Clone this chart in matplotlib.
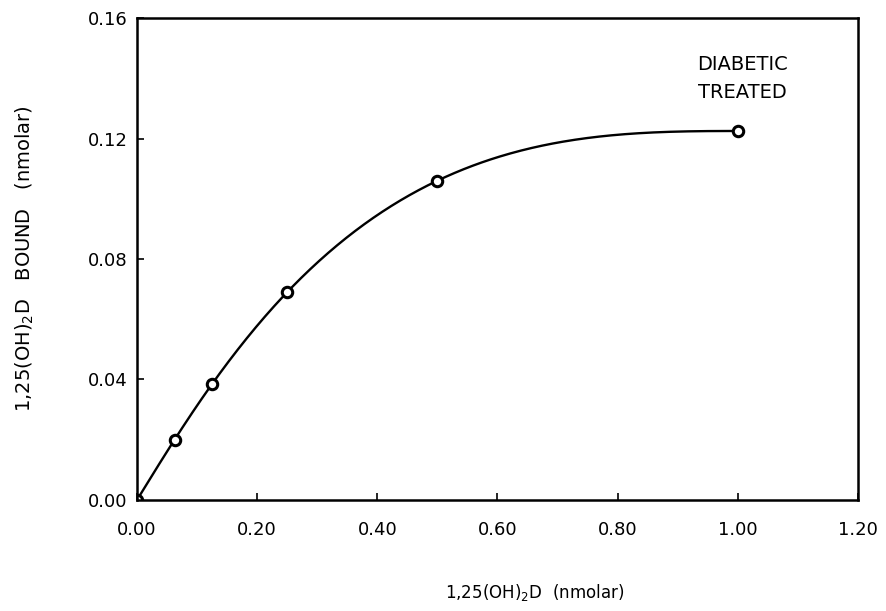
import numpy as np
import matplotlib
matplotlib.use("Agg")
import matplotlib.pyplot as plt

# Data
conc = [0.0, 0.0625, 0.125, 0.25, 0.5, 1.0]          # 1,25(OH)2D added (nmolar)
bound = [0.0, 0.020, 0.0385, 0.069, 0.106, 0.1225]    # 1,25(OH)2D bound (nmolar)

x_ticks = [0.0, 0.2, 0.4, 0.6, 0.8, 1.0, 1.2]
y_ticks = [0.0, 0.04, 0.08, 0.12, 0.16]
label_text = "DIABETIC\nTREATED"


def smooth_curve(x, y, xs, end_slope=0.0):
    # cubic spline through the points: natural at the start, flat at the end
    x = np.asarray(x, float)
    y = np.asarray(y, float)
    n = len(x)
    h = np.diff(x)
    A = np.zeros((n, n))
    b = np.zeros(n)
    A[0, 0] = 1.0
    for i in range(1, n - 1):
        A[i, i - 1] = h[i - 1]
        A[i, i] = 2 * (h[i - 1] + h[i])
        A[i, i + 1] = h[i]
        b[i] = 6 * ((y[i + 1] - y[i]) / h[i] - (y[i] - y[i - 1]) / h[i - 1])
    A[-1, -2] = h[-1]
    A[-1, -1] = 2 * h[-1]
    b[-1] = 6 * (end_slope - (y[-1] - y[-2]) / h[-1])
    M = np.linalg.solve(A, b)
    idx = np.clip(np.searchsorted(x, xs) - 1, 0, n - 2)
    a = x[idx + 1] - xs
    c = xs - x[idx]
    hh = h[idx]
    return (M[idx] * a**3 / (6 * hh) + M[idx + 1] * c**3 / (6 * hh)
            + (y[idx] / hh - M[idx] * hh / 6) * a
            + (y[idx + 1] / hh - M[idx + 1] * hh / 6) * c)


plt.rcParams['font.family'] = ['DejaVu Sans']

fig = plt.figure(figsize=(8.86, 6.11), dpi=100)
ax = fig.add_axes([0.1546, 0.1817, 0.8138, 0.7888])

xs = np.linspace(conc[0], conc[-1], 400)
ax.plot(xs, smooth_curve(conc, bound, xs), color='black', lw=1.7)
ax.plot(conc, bound, 'o', ms=7.5, mfc='white', mec='black', mew=2.2)

ax.text(1.008, 0.1398, label_text, ha='center', va='center',
        fontsize=14, linespacing=1.6)

ax.set_xlim(0, 1.2)
ax.set_ylim(0, 0.16)
ax.set_xticks(x_ticks)
ax.set_yticks(y_ticks)
ax.set_xticklabels([f"{v:.2f}" for v in x_ticks])
ax.set_yticklabels([f"{v:.2f}" for v in y_ticks])
ax.tick_params(direction='in', length=5, width=1.2, labelsize=13)
ax.tick_params(axis='x', pad=15)
ax.tick_params(axis='y', pad=7)
for sp in ax.spines.values():
    sp.set_linewidth(1.8)

ax.set_xlabel(r"1,25(OH)$_2$D  (nmolar)", fontsize=12)
ax.set_ylabel(r"1,25(OH)$_2$D   BOUND   (nmolar)", fontsize=14)
ax.xaxis.set_label_coords(0.552, -0.170)
ax.yaxis.set_label_coords(-0.140, 0.50)

fig.savefig("out.png", dpi=100)
